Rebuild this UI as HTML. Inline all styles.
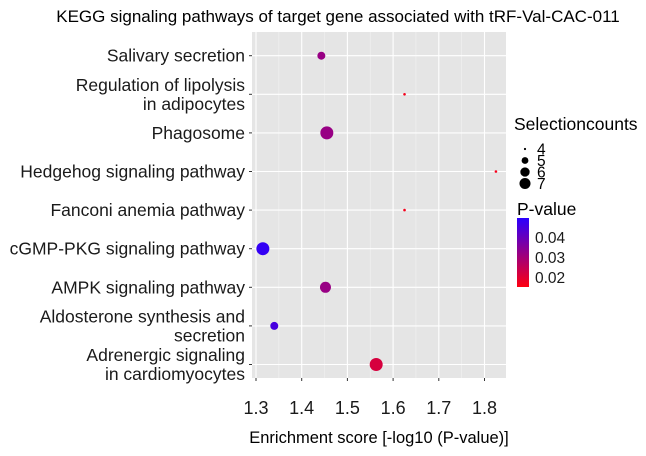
<!DOCTYPE html>
<html><head><meta charset="utf-8"><style>
body{margin:0;background:#fff;font-family:"Liberation Sans",sans-serif}
</style></head><body>
<svg id="c" width="646" height="451" xmlns="http://www.w3.org/2000/svg" font-family="Liberation Sans, sans-serif">
<defs><linearGradient id="g" x1="0" y1="0" x2="0" y2="1"><stop offset="0" stop-color="#2a00ff"/><stop offset="1" stop-color="#ff0010"/></linearGradient></defs>
<text x="338" y="22" text-anchor="middle" font-size="17" fill="#000">KEGG signaling pathways of target gene associated with tRF-Val-CAC-011</text>
<rect x="252" y="32" width="254" height="346" fill="#e5e5e5"/>
<g id="grid"></g><g id="ylab"></g><g id="xlab"></g><g id="pts"></g>
<text x="379" y="443" text-anchor="middle" font-size="16.5">Enrichment score [-log10 (P-value)]</text>
<text x="514" y="130" font-size="17.5">Selectioncounts</text>
<g id="sleg"></g>
<text x="517" y="215" font-size="17.5">P-value</text>
<rect x="517" y="218" width="12" height="69" fill="url(#g)"/>
<g id="cleg"></g>
</svg>
<script>
const categories=["Salivary secretion","Regulation of lipolysis|in adipocytes","Phagosome","Hedgehog signaling pathway","Fanconi anemia pathway","cGMP-PKG signaling pathway","AMPK signaling pathway","Aldosterone synthesis and|secretion","Adrenergic signaling|in cardiomyocytes"];
const scores=[1.443,1.625,1.455,1.825,1.625,1.315,1.452,1.34,1.563];
const counts=[5,4,7,4,4,7,6,5,7];
const pvalues=[0.032,0.017,0.032,0.017,0.017,0.048,0.032,0.045,0.022];
const xTicks=[1.3,1.4,1.5,1.6,1.7,1.8];
const sizeLevels=[4,5,6,7];
const colorTicks=[0.04,0.03,0.02];
const NS="http://www.w3.org/2000/svg";
const X=v=>256+(v-1.3)*457;
const Y=i=>55.7+i*38.6;
const R=c=>({4:1.3,5:4,6:5.5,7:6.5}[c]);
const CY=p=>237+(0.04-p)*2000;
function col(p){let t=Math.max(0,Math.min(1,(p-0.0155)/0.034));return `rgb(${Math.round(255*(1-t)+42*t)},0,${Math.round(16*(1-t)+255*t)})`;}
function mk(tag,attrs,parent,text){const e=document.createElementNS(NS,tag);for(const k in attrs)e.setAttribute(k,attrs[k]);if(text!==undefined)e.textContent=text;document.getElementById(parent).appendChild(e);return e;}
for(let i=0;i<xTicks.length-1;i++){const e=mk('line',{x1:X(xTicks[i]+0.05),x2:X(xTicks[i]+0.05),y1:32,y2:378,stroke:'#f2f2f2','stroke-width':0.6},'grid');

}
xTicks.forEach(v=>{const e=mk('line',{x1:X(v),x2:X(v),y1:32,y2:378,stroke:'#fff','stroke-width':1.1},'grid');


const t=mk('text',{x:X(v),y:414,'text-anchor':'middle','font-size':18,fill:'#1a1a1a'},'xlab',v.toFixed(1));


mk('line',{x1:X(v),x2:X(v),y1:378,y2:381,stroke:'#333'},'xlab');});
categories.forEach((c,i)=>{const e=mk('line',{x1:252,x2:506,y1:Y(i),y2:Y(i),stroke:'#fff','stroke-width':1.1},'grid');


mk('line',{x1:249,x2:252,y1:Y(i),y2:Y(i),stroke:'#333'},'ylab');
const parts=c.split('|');
parts.forEach((p,j)=>{const yy=Y(i)+6+(parts.length===2?(j===0?-9.5:9.5):0);
const t=mk('text',{x:245,y:yy,'text-anchor':'end','font-size':17.5,fill:'#1a1a1a'},'ylab',p);

});
const d=mk('circle',{cx:X(scores[i]),cy:Y(i),r:R(counts[i]),fill:col(pvalues[i])},'pts');

});
sizeLevels.forEach((s,i)=>{const y=149+i*11.5;
const d=mk('circle',{cx:525,cy:y,r:R(s)*0.85,fill:'#000'},'sleg');


const t=mk('text',{x:537,y:y+5.5,'font-size':15.5},'sleg',String(s));

});
colorTicks.forEach(p=>{const t=mk('text',{x:535,y:CY(p)+6,'font-size':15.5,fill:'#1a1a1a'},'cleg',p.toFixed(2));

});
</script>
</body></html>
